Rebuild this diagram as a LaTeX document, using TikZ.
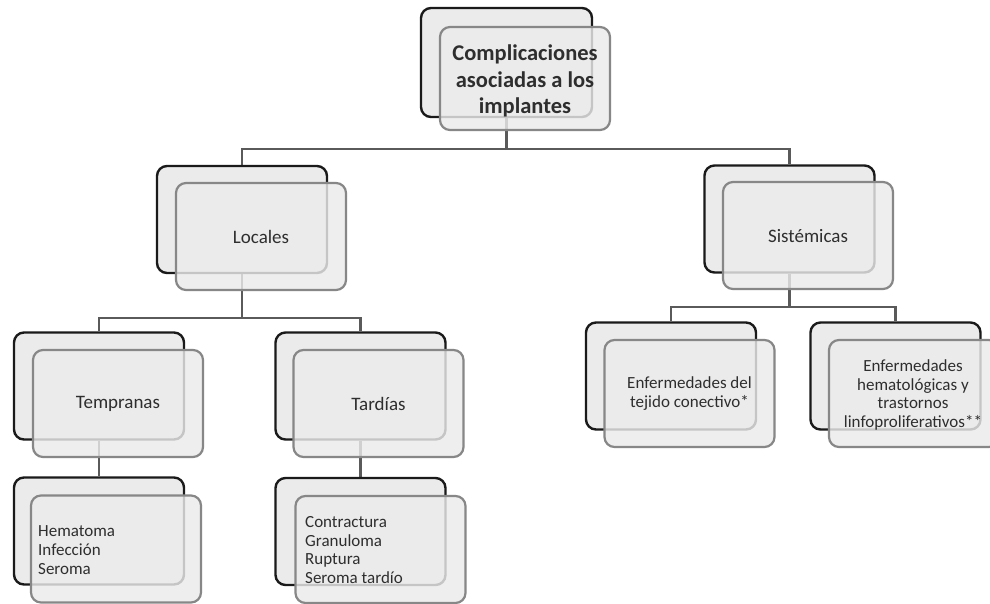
\documentclass[tikz,border=0pt]{standalone}
\usepackage{fontspec}
\setmainfont{Carlito}
\definecolor{backline}{HTML}{1A1A1A}
\definecolor{frontline}{HTML}{878787}
\definecolor{boxfill}{HTML}{EBEBEB}
\definecolor{txt}{HTML}{2E2E2E}
\definecolor{conn}{HTML}{5A5A5A}
\pgfdeclarelayer{bg}
\pgfsetlayers{bg,main}
\begin{document}
\begin{tikzpicture}[x=1pt,y=-1pt,
  back/.style={draw=backline, fill=boxfill, line width=2.4pt, rounded corners=10pt,
    minimum width=170pt, minimum height=107pt, inner sep=0pt},
  front/.style={draw=frontline, fill=boxfill, fill opacity=0.82, line width=2.2pt,
    rounded corners=10pt, minimum width=170pt, minimum height=107pt, inner sep=0pt},
  title/.style={text=txt, align=center, font=\bfseries\fontsize{22.5}{26.5}\selectfont},
  mid/.style={text=txt, align=center, font=\fontsize{19}{23}\selectfont},
  small/.style={text=txt, align=center, font=\fontsize{17}{19.5}\selectfont},
  list/.style={text=txt, align=left, anchor=west, inner sep=0pt, font=\fontsize{17}{18.7}\selectfont},
  link/.style={draw=conn, line width=2.2pt}
]
\useasboundingbox (0,0) rectangle (990,603);
\clip (0,0) rectangle (990,603);

% top
\node[back, minimum width=171pt, minimum height=109pt] (topB) at (506.5,62.5) {};
\node[front, minimum height=103pt] (topF) at (525,78.5) {};
\node[title] (topT) at (525,81) {Complicaciones\\asociadas a los\\implantes};

% second level
\node[back] (locB) at (242,219.5) {};
\node[front] (locF) at (261,236.5) {};
\node[mid] (locT) at (261,236.5) {Locales};

\node[back] (sisB) at (789.5,219) {};
\node[front] (sisF) at (808,235.5) {};
\node[mid] (sisT) at (808,236.5) {Sistémicas};

% third level left
\node[back] (temB) at (99,386) {};
\node[front] (temF) at (118,403.5) {};
\node[mid] (temT) at (118,403.5) {Tempranas};

\node[back] (tarB) at (360.5,386) {};
\node[front] (tarF) at (378.5,403.5) {};
\node[mid] (tarT) at (378.5,403.5) {Tardías};

% third level right
\node[back] (ctvB) at (671,376) {};
\node[front] (ctvF) at (689.5,393.5) {};
\node[small] (ctvT) at (689.5,393.5) {Enfermedades del\\tejido conectivo*};

\node[back] (hemB) at (895.5,376) {};
\node[front] (hemF) at (914,393.5) {};
\node[small, font=\fontsize{17}{18.7}\selectfont] (hemT) at (913,395) {Enfermedades\\hematológicas y\\trastornos\\linfoproliferativos**};

% fourth level
\node[back] (temLB) at (99,531) {};
\node[front] (temLF) at (116,549) {};
\node[list] (temLT) at (38,550) {Hematoma\\Infección\\Seroma};

\node[back] (tarLB) at (360.5,531.5) {};
\node[front] (tarLF) at (380.5,549.5) {};
\node[list] (tarLT) at (305,550) {Contractura\\Granuloma\\Ruptura\\Seroma tardío};

% connectors
\coordinate (j1) at (506.5,149);
\coordinate (j2) at (242,318);
\coordinate (j3) at (789.5,307);
\begin{pgfonlayer}{bg}
\fill[white] (0,0) rectangle (990,603);
\draw[link] (topB.south) -- (j1);
\draw[link] (j1) -| (locB.north);
\draw[link] (j1) -| (sisB.north);
\draw[link] (locB.south) -- (j2);
\draw[link] (j2) -| (temB.north);
\draw[link] (j2) -| (tarB.north);
\draw[link] (sisB.south) -- (j3);
\draw[link] (j3) -| (ctvB.north);
\draw[link] (j3) -| (hemB.north);
\draw[link] (temB.south) -- (temLB.north);
\draw[link] (tarB.south) -- (tarLB.north);
\end{pgfonlayer}
\end{tikzpicture}
\end{document}
